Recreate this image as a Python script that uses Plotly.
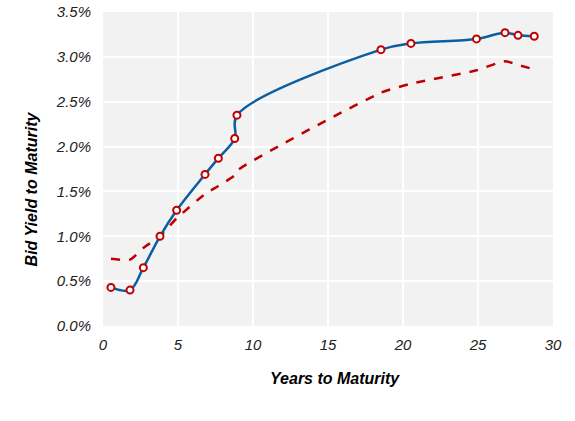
import plotly.graph_objects as go

years = [0.53, 1.8, 2.69, 3.8, 4.91, 6.8, 7.69, 8.78, 8.93, 18.53, 20.53, 24.9, 26.8, 27.67, 28.75]
bid_yield = [0.43, 0.40, 0.65, 1.00, 1.29, 1.69, 1.87, 2.09, 2.35, 3.08, 3.15, 3.20, 3.27, 3.24, 3.23]
fitted_yield = [0.75, 0.74, 0.87, 1.00, 1.20, 1.47, 1.56, 1.68, 1.73, 2.60, 2.70, 2.85, 2.95, 2.91, 2.86]

x_ticks = [0, 5, 10, 15, 20, 25, 30]
y_ticks = [0, 0.5, 1.0, 1.5, 2.0, 2.5, 3.0, 3.5]
y_tick_labels = [f"{v:.1f}%" for v in y_ticks]

fig = go.Figure()
fig.add_trace(go.Scatter(
    x=years, y=fitted_yield, mode="lines",
    line=dict(color="#c00000", width=2.5, dash="dash", shape="spline", smoothing=0.6),
    showlegend=False, hoverinfo="skip"))
fig.add_trace(go.Scatter(
    x=years, y=bid_yield, mode="lines+markers",
    line=dict(color="#0a5fa0", width=2.5, shape="spline", smoothing=1),
    marker=dict(symbol="circle", size=7, color="white", line=dict(color="#c00000", width=2)),
    showlegend=False))

FONT = "Liberation Sans, Arial, sans-serif"
tick_font = dict(family=FONT, size=15, color="#222")
title_font = dict(family=FONT, size=16, color="#000")

fig.update_layout(
    width=575, height=421,
    margin=dict(l=103, r=22, t=12, b=95),
    paper_bgcolor="white", plot_bgcolor="#f2f2f2",
    xaxis=dict(range=[0, 30], tickvals=x_ticks, ticktext=[f"<i>{v}</i>" for v in x_ticks],
               showgrid=True, gridcolor="white", gridwidth=2, zeroline=False,
               tickfont=tick_font, ticks="outside", ticklen=5, tickcolor="rgba(0,0,0,0)",
               automargin=False),
    yaxis=dict(range=[0, 3.5], tickvals=y_ticks, ticktext=[f"<i>{t}</i>" for t in y_tick_labels],
               showgrid=True, gridcolor="white", gridwidth=2, zeroline=False,
               tickfont=tick_font, ticks="outside", ticklen=8, tickcolor="rgba(0,0,0,0)",
               automargin=False),
    annotations=[
        dict(text="<b><i>Years to Maturity</i></b>", xref="paper", yref="paper",
             x=0.515, y=0, yshift=-52, showarrow=False, font=title_font,
             xanchor="center", yanchor="middle"),
        dict(text="<b><i>Bid Yield to Maturity</i></b>", xref="paper", yref="paper",
             x=0, xshift=-72, y=0.435, showarrow=False, font=title_font, textangle=-90,
             xanchor="center", yanchor="middle"),
    ],
)

fig.write_html("out.html", config={"displayModeBar": False},
               post_script="document.body.style.margin='0';")
